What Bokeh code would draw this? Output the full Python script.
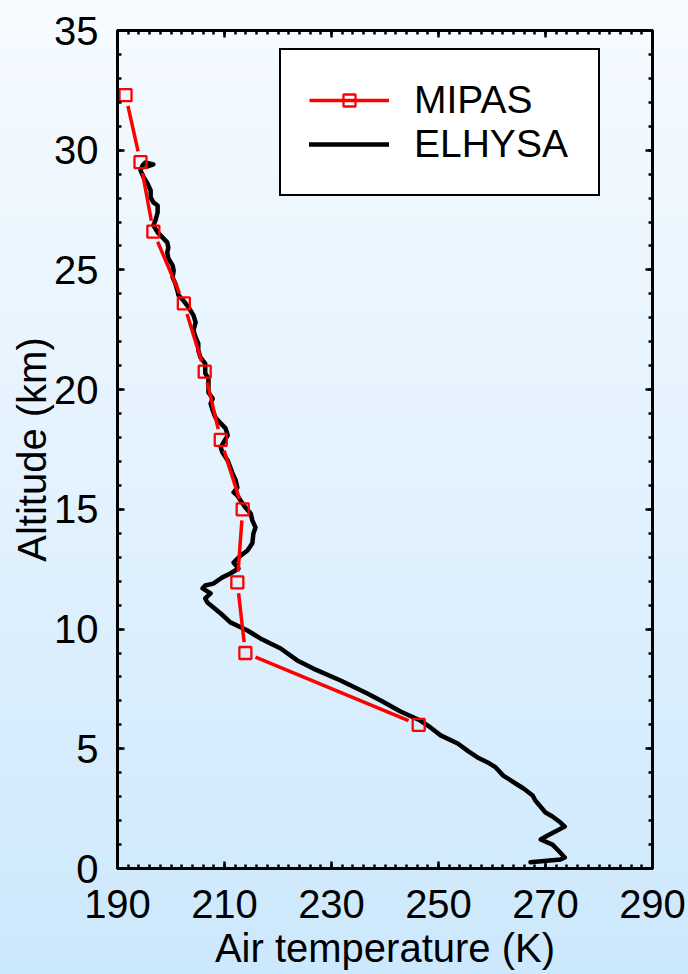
from bokeh.plotting import figure
from bokeh.models import (LinearAxis, FixedTicker, Range1d, Legend, LegendItem,
                          ColumnDataSource, GlobalInlineStyleSheet, CustomLabelingPolicy)
from bokeh.embed import file_html
from bokeh.resources import INLINE
import math

# ---------------- data ----------------
x_ticks = [190, 210, 230, 250, 270, 290]
x_minor = list(range(190, 291, 2))
y_ticks = [0, 5, 10, 15, 20, 25, 30, 35]
y_minor = list(range(0, 36))

mipas_temp = [191.5, 194.3, 196.7, 202.4, 206.3, 209.3, 213.4, 212.4, 213.9, 246.3]
mipas_alt = [32.3, 29.5, 26.6, 23.6, 20.75, 17.9, 15.0, 11.95, 9.0, 6.0]

elhysa_temp = [267.2, 272.8, 273.6, 272.4, 271.3, 269.1, 270.4, 272.2, 273.6, 272.8,
               271.3, 270.0, 268.1, 267.6, 265.9, 264.4, 262.1, 260.7, 259.2, 257.3,
               255.6, 253.6, 250.4, 248.5, 246.6, 242.9, 239.2, 236.7, 231.7, 226.6,
               223.6, 220.5, 216.7, 214.3, 211.1, 209.3, 206.8, 206.4, 207.4, 205.9,
               206.4, 207.9, 209.6, 211.1, 212.6, 211.7, 213.0, 214.3, 215.2, 215.4,
               215.8, 215.2, 214.9, 213.9, 213.0, 212.4, 211.7, 212.4, 212.1, 211.5,
               211.1, 210.6, 209.6, 209.3, 209.8, 210.6, 210.2, 209.3, 208.3, 207.8,
               207.4, 207.8, 207.0, 207.0, 207.0, 206.4, 206.4, 205.5, 205.1, 205.1,
               204.6, 204.2, 204.6, 204.2, 203.3, 202.3, 201.4, 201.2, 200.8, 200.3,
               200.5, 200.3, 199.5, 199.3, 199.5, 199.3, 198.4, 197.5, 196.7, 197.1,
               197.5, 197.5, 196.7, 196.2, 196.2, 195.6, 194.9, 194.3, 194.7, 195.2,
               196.7, 195.6]
elhysa_alt = [0.26, 0.38, 0.46, 0.75, 1.00, 1.21, 1.38, 1.59, 1.75, 1.92,
              2.17, 2.34, 2.84, 3.05, 3.34, 3.55, 3.88, 4.22, 4.43, 4.64,
              4.89, 5.22, 5.56, 5.89, 6.18, 6.56, 7.02, 7.31, 7.85, 8.35,
              8.69, 9.19, 9.61, 9.94, 10.28, 10.65, 11.11, 11.28, 11.49, 11.70,
              11.82, 11.90, 12.16, 12.32, 12.53, 12.78, 13.07, 13.28, 13.58, 13.99,
              14.24, 14.54, 14.83, 15.08, 15.37, 15.58, 15.71, 15.91, 16.21, 16.50,
              16.75, 17.04, 17.38, 17.59, 17.79, 18.09, 18.38, 18.59, 18.84, 19.13,
              19.42, 19.63, 19.88, 20.09, 20.47, 20.68, 21.09, 21.35, 21.64, 21.93,
              22.18, 22.47, 22.81, 23.10, 23.43, 23.73, 23.94, 24.14, 24.44, 24.69,
              24.98, 25.19, 25.48, 25.73, 25.94, 26.15, 26.36, 26.57, 26.86, 27.07,
              27.40, 27.69, 27.82, 28.03, 28.32, 28.61, 28.86, 29.16, 29.37, 29.49,
              29.41, 29.32]

x_title = "Air temperature (K)"
y_title = "Altitude (km)"

# ---------------- figure ----------------
W, H = 688, 974
ML, MR, MT, MB = 117, 36, 30, 106
FONT = "Liberation Sans"

p = figure(width=W, height=H, output_backend="svg", toolbar_location=None,
           x_range=Range1d(190, 290), y_range=Range1d(0, 35),
           min_border_left=ML, min_border_right=MR, min_border_top=MT, min_border_bottom=MB,
           x_axis_label=x_title, y_axis_label=y_title)
p.background_fill_color = None
p.border_fill_color = None
p.outline_line_color = "black"
p.outline_line_width = 3
p.grid.visible = False

p.stylesheets = [GlobalInlineStyleSheet(css=
    "html{min-height:100%;background:linear-gradient(to bottom,#f6fbff 0%,#e3f2fe 50%,#cce8fc 100%);}"
    "body{background:transparent;}")]

xt = FixedTicker(ticks=x_ticks, minor_ticks=x_minor)
yt = FixedTicker(ticks=y_ticks, minor_ticks=y_minor)
bottom_ax = p.below[0]
left_ax = p.left[0]
bottom_ax.ticker = xt
left_ax.ticker = yt
top_ax = LinearAxis(ticker=xt)
right_ax = LinearAxis(ticker=yt)
p.add_layout(top_ax, "above")
p.add_layout(right_ax, "right")

for ax in (bottom_ax, left_ax, top_ax, right_ax):
    ax.axis_line_color = "black"
    ax.axis_line_width = 3
    ax.major_tick_in = 7
    ax.major_tick_out = 0
    ax.minor_tick_in = 4
    ax.minor_tick_out = 0
    ax.major_tick_line_width = 2.5
    ax.minor_tick_line_width = 2.5
    ax.major_tick_line_color = "black"
    ax.minor_tick_line_color = "black"
    ax.major_label_text_font = FONT
    ax.major_label_text_font_size = "40px"
    ax.major_label_text_color = "black"
    ax.axis_label_text_font = FONT
    ax.axis_label_text_font_size = "40px"
    ax.axis_label_text_font_style = "normal"
    ax.axis_label_text_color = "black"

# mirror axes: ticks only, no labels
for ax in (top_ax, right_ax):
    ax.major_label_policy = CustomLabelingPolicy(code="return []")
    ax.major_label_text_font_size = "1px"
    ax.major_label_standoff = 0

bottom_ax.major_label_standoff = 21
bottom_ax.axis_label_standoff = 5
left_ax.major_label_standoff = 19
left_ax.axis_label_standoff = -3

# ELHYSA line
r_el = p.line(elhysa_temp, elhysa_alt, line_color="black", line_width=4.5,
              line_join="round", line_cap="round")

# MIPAS: segments with small gaps near the markers (Origin style)
sx = (W - ML - MR) / 100.0
sy = (H - MT - MB) / 35.0
gap = 11.0
x0s, y0s, x1s, y1s = [], [], [], []
for i in range(len(mipas_temp) - 1):
    xa, ya, xb, yb = mipas_temp[i], mipas_alt[i], mipas_temp[i + 1], mipas_alt[i + 1]
    L = math.hypot((xb - xa) * sx, (yb - ya) * sy)
    t0, t1 = gap / L, 1 - gap / L
    x0s.append(xa + (xb - xa) * t0); y0s.append(ya + (yb - ya) * t0)
    x1s.append(xa + (xb - xa) * t1); y1s.append(ya + (yb - ya) * t1)
seg_src = ColumnDataSource(dict(x0=x0s, y0=y0s, x1=x1s, y1=y1s))
r_seg = p.segment("x0", "y0", "x1", "y1", source=seg_src, line_color="red", line_width=3.5)
r_pts = p.scatter(mipas_temp, mipas_alt, marker="square", size=12, fill_color=None,
                  line_color="red", line_width=2.3)

legend = Legend(items=[LegendItem(label="MIPAS", renderers=[r_seg, r_pts]),
                       LegendItem(label="ELHYSA", renderers=[r_el])],
                location=(162, 672))
legend.label_text_font = FONT
legend.label_text_font_size = "39px"
legend.label_text_color = "black"
legend.glyph_width = 80
legend.glyph_height = 30
legend.label_standoff = 25
legend.label_width = 156
legend.padding = 28
legend.spacing = -4
legend.margin = 0
legend.border_line_color = "black"
legend.border_line_alpha = 1.0
legend.border_line_width = 2.5
legend.background_fill_color = "white"
legend.background_fill_alpha = 1.0
p.add_layout(legend, "center")

open("out.html", "w").write(file_html(p, INLINE))
